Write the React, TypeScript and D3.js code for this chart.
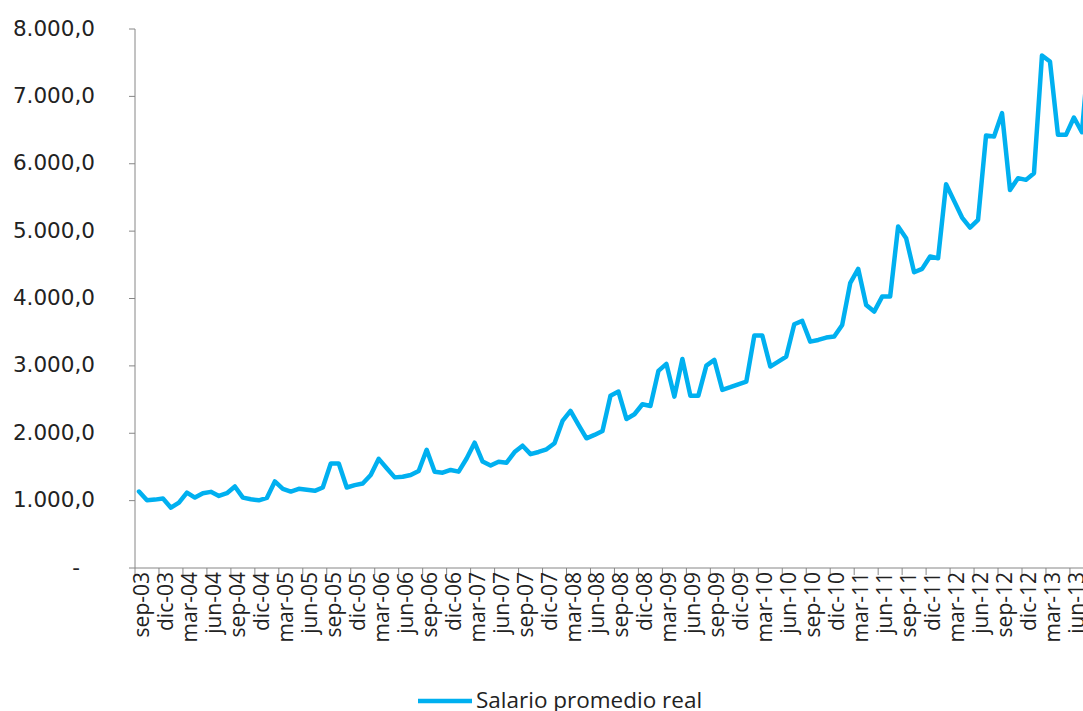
import React from "react";
import * as d3 from "d3";

const MONTHS = ["ene", "feb", "mar", "abr", "may", "jun", "jul", "ago", "sep", "oct", "nov", "dic"];

const salarioPromedioReal: number[] = [
  1135, 1005, 1015, 1030, 895, 970, 1120, 1045, 1110, 1130, 1070, 1110,
  1210, 1045, 1020, 1005, 1040, 1285, 1175, 1135, 1175, 1160, 1145, 1195,
  1550, 1550, 1195, 1230, 1255, 1380, 1620, 1480, 1345, 1355, 1380, 1440,
  1755, 1430, 1415, 1455, 1430, 1625, 1860, 1580, 1520, 1578, 1563, 1720,
  1815, 1690, 1722, 1762, 1851, 2183, 2331, 2123, 1925, 1975, 2034, 2558,
  2618, 2212, 2282, 2430, 2405, 2925, 3029, 2544, 3103, 2558, 2558, 3004,
  3088, 2643, 2683, 2727, 2767, 3450, 3450, 2990, 3063, 3138, 3618, 3667,
  3360, 3385, 3420, 3435, 3608, 4227, 4440, 3905, 3806, 4028, 4028, 5068,
  4895, 4390, 4440, 4623, 4598, 5697, 5449, 5201, 5053, 5167, 6419, 6404,
  6751, 5612, 5786, 5761, 5860, 7607, 7518, 6429, 6429, 6686, 6469, 7850,
];

// month categories starting sep-03
const categories: string[] = salarioPromedioReal.map((_, i) => {
  const m = (8 + i) % 12;
  const y = 3 + Math.floor((8 + i) / 12);
  return `${MONTHS[m]}-${String(y).padStart(2, "0")}`;
});

const tickLabels: string[] = [
  "sep-03", "dic-03", "mar-04", "jun-04", "sep-04", "dic-04", "mar-05", "jun-05",
  "sep-05", "dic-05", "mar-06", "jun-06", "sep-06", "dic-06", "mar-07", "jun-07",
  "sep-07", "dic-07", "mar-08", "jun-08", "sep-08", "dic-08", "mar-09", "jun-09",
  "sep-09", "dic-09", "mar-10", "jun-10", "sep-10", "dic-10", "mar-11", "jun-11",
  "sep-11", "dic-11", "mar-12", "jun-12", "sep-12", "dic-12", "mar-13", "jun-13",
];

const yTicks: number[] = [0, 1000, 2000, 3000, 4000, 5000, 6000, 7000, 8000];
const seriesName = "Salario promedio real";

const W = 1083;
const H = 711;
const LEFT = 135;
const BOTTOM = 568;
const TOP = 29;
const STEP = 7.991;
const COLOR = "#00B0F0";
const AXIS = "#868686";
const FONT = "'Open Sans', sans-serif";
const YFONT = "'DejaVu Sans', sans-serif";

const fmt = (v: number) => {
  if (v === 0) return "-";
  const s = d3.format(",.1f")(v);
  return s.replace(/,/g, "#").replace(/\./g, ",").replace(/#/g, ".");
};

export default function App() {
  const x = d3
    .scaleBand<string>()
    .domain(categories)
    .range([LEFT, LEFT + categories.length * STEP])
    .paddingInner(0)
    .paddingOuter(0);
  const y = d3.scaleLinear().domain([0, 8000]).range([BOTTOM, TOP]);
  const cx = (c: string) => (x(c) as number) + x.bandwidth() / 2;

  const line = d3
    .line<number>()
    .x((_, i) => cx(categories[i]))
    .y((d) => y(d));

  const tickCats = tickLabels.filter((l) => categories.includes(l));

  return (
    <svg
      width={W}
      height={H}
      style={{ position: "absolute", left: 0, top: 0, background: "#fff" }}
      fontFamily={FONT}
    >
      {/* y axis */}
      <line x1={LEFT} x2={LEFT} y1={TOP} y2={BOTTOM} stroke={AXIS} strokeWidth={1} />
      {yTicks.map((t) => (
        <g key={t}>
          <line x1={LEFT - 6} x2={LEFT} y1={y(t)} y2={y(t)} stroke={AXIS} strokeWidth={1} />
          <text
            x={t === 0 ? 80 : 95}
            y={y(t) - 1}
            textAnchor="end"
            dominantBaseline="central"
            fontSize={21.5}
            fontFamily={YFONT}
            fill="#222"
          >
            {fmt(t)}
          </text>
        </g>
      ))}
      {/* x axis */}
      <line x1={LEFT} x2={W} y1={BOTTOM} y2={BOTTOM} stroke={AXIS} strokeWidth={1} />
      {tickCats.map((c) => (
        <g key={c}>
          <line
            x1={x(c) as number}
            x2={x(c) as number}
            y1={BOTTOM}
            y2={BOTTOM + 7}
            stroke={AXIS}
            strokeWidth={1}
          />
          <text
            transform={`translate(${cx(c) + 2},${BOTTOM + 4}) rotate(-90)`}
            textAnchor="end"
            dominantBaseline="central"
            fontSize={21}
            fill="#222"
          >
            {c}
          </text>
        </g>
      ))}
      {/* series */}
      <path
        d={line(salarioPromedioReal) || ""}
        fill="none"
        stroke={COLOR}
        strokeWidth={4.5}
        strokeLinejoin="round"
        strokeLinecap="round"
      />
      {/* legend */}
      <line x1={418} x2={472} y1={701} y2={701} stroke={COLOR} strokeWidth={4.5} />
      <text x={476} y={708} fontSize={22.5} fill="#222">
        {seriesName}
      </text>
    </svg>
  );
}
